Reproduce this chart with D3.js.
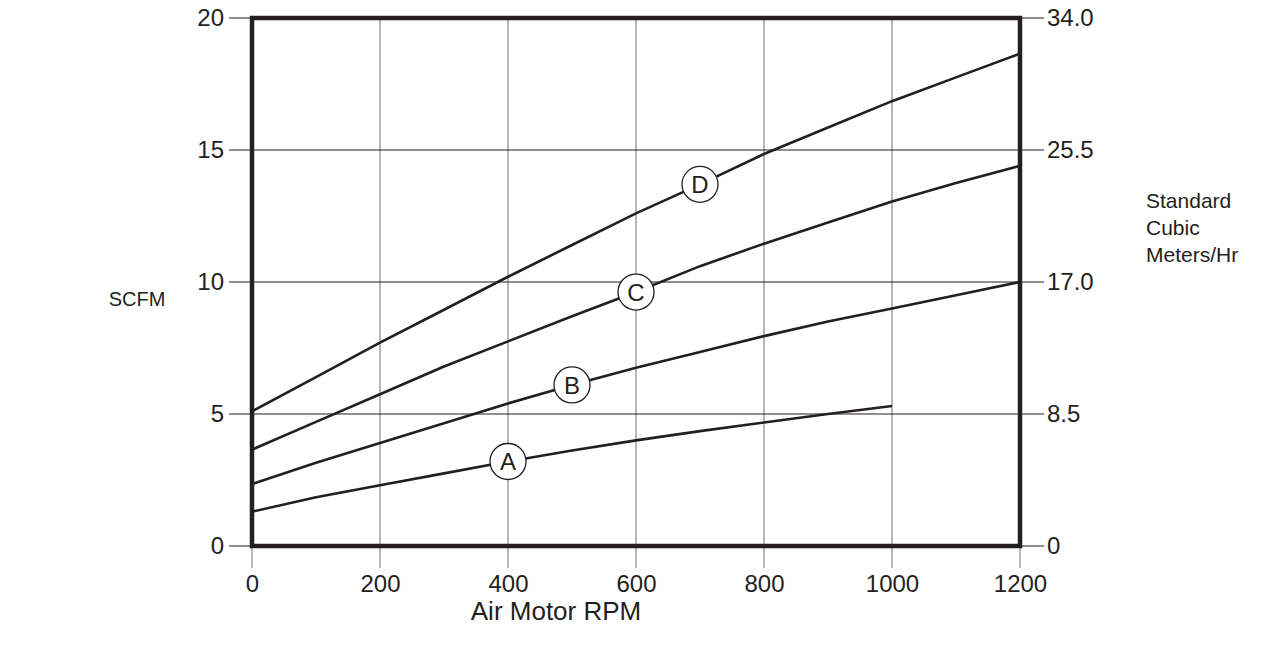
<!DOCTYPE html>
<html>
<head>
<meta charset="utf-8">
<script src="https://cdn.jsdelivr.net/npm/d3@7"></script>
<style>
  body { margin: 0; background: #fff; }
  svg text { font-family: "Liberation Sans", Arial, sans-serif; fill: #231f20; }
</style>
</head>
<body>
<svg id="chart" width="1270" height="646"></svg>
<script>
	'use strict';

	// RPM steps for curves
	var rpm = [0, 100, 200, 300, 400, 500, 600, 700, 800, 900, 1000, 1100, 1200];
	var curveA = [1.3, 1.85, 2.3, 2.75, 3.2, 3.62, 4.0, 4.35, 4.68, 5.0, 5.3];
	var curveB = [2.35, 3.15, 3.9, 4.65, 5.4, 6.1, 6.75, 7.35, 7.95, 8.5, 9.0, 9.5, 10.0];
	var curveC = [3.65, 4.7, 5.75, 6.8, 7.75, 8.7, 9.62, 10.6, 11.45, 12.25, 13.05, 13.75, 14.4];
	var curveD = [5.1, 6.4, 7.7, 8.95, 10.2, 11.4, 12.6, 13.7, 14.85, 15.85, 16.85, 17.75, 18.65];
	var curveNames = ['A', 'B', 'C', 'D'];
	var labelRpm = [400, 500, 600, 700];
	var xTicks = [0, 200, 400, 600, 800, 1000, 1200];
	var yTicks = [0, 5, 10, 15, 20];
	var yRightTicks = ['0', '8.5', '17.0', '25.5', '34.0'];

(function() {
	var svg = d3.select('#chart');
	var pLeft = 252, pRight = 1020, pTop = 18, pBottom = 546;
	var fontSize = '24px';

	var x = d3.scaleLinear().domain([0, 1200]).range([pLeft, pRight]);
	var y = d3.scaleLinear().domain([0, 20]).range([pBottom, pTop]);
	var y2 = d3.scaleLinear().domain([0, 34]).range([pBottom, pTop]);

	// vertical grid
	svg.append('g').selectAll('line').data(xTicks).enter().append('line')
		.attr('x1', x).attr('x2', x)
		.attr('y1', pTop).attr('y2', pBottom + 22)
		.attr('stroke', '#6d6e71').attr('stroke-width', 1);

	// horizontal grid + outside ticks
	svg.append('g').selectAll('line').data(yTicks).enter().append('line')
		.attr('x1', pLeft - 23).attr('x2', pRight + 24)
		.attr('y1', y).attr('y2', y)
		.attr('stroke', '#231f20').attr('stroke-width', 1);

	// axes (labels only)
	var axisBottom = svg.append('g')
		.attr('transform', 'translate(0,' + (pBottom + 26) + ')')
		.call(d3.axisBottom(x).tickValues(xTicks).tickFormat(d3.format('d'))
			.tickSize(0).tickPadding(3));
	var axisLeft = svg.append('g')
		.attr('transform', 'translate(' + (pLeft - 26) + ',0)')
		.call(d3.axisLeft(y).tickValues(yTicks).tickSize(0).tickPadding(2));
	var axisRight = svg.append('g')
		.attr('transform', 'translate(' + (pRight + 25) + ',0)')
		.call(d3.axisRight(y2).tickValues([0, 8.5, 17, 25.5, 34])
			.tickFormat(function(d, i) { return yRightTicks[i]; })
			.tickSize(0).tickPadding(2));
	[axisBottom, axisLeft, axisRight].forEach(function(a) {
		a.select('.domain').remove();
		a.selectAll('text').style('font-size', fontSize).attr('fill', '#231f20');
	});

	// curves
	var line = d3.line()
		.x(function(d) { return x(d[0]); })
		.y(function(d) { return y(d[1]); });
	var curves = [curveA, curveB, curveC, curveD];
	curves.forEach(function(vals) {
		var pts = vals.map(function(v, i) { return [rpm[i], v]; });
		svg.append('path').datum(pts)
			.attr('d', line)
			.attr('fill', 'none')
			.attr('stroke', '#231f20')
			.attr('stroke-width', 2.6);
	});

	// frame
	svg.append('rect')
		.attr('x', pLeft).attr('y', pTop)
		.attr('width', pRight - pLeft).attr('height', pBottom - pTop)
		.attr('fill', 'none').attr('stroke', '#231f20').attr('stroke-width', 4.5);

	// curve labels
	curveNames.forEach(function(name, i) {
		var r = labelRpm[i];
		var idx = rpm.indexOf(r);
		var g = svg.append('g')
			.attr('transform', 'translate(' + x(r) + ',' + y(curves[i][idx]) + ')');
		g.append('circle').attr('r', 18)
			.attr('fill', '#fff').attr('stroke', '#231f20').attr('stroke-width', 1.3);
		g.append('text').attr('text-anchor', 'middle').attr('dy', '0.36em')
			.style('font-size', fontSize).text(name);
	});

	// axis titles
	svg.append('text').attr('x', 137).attr('y', 306)
		.attr('text-anchor', 'middle').style('font-size', '20px').text('SCFM');
	svg.append('text').attr('x', 556).attr('y', 620)
		.attr('text-anchor', 'middle').style('font-size', '26px').text('Air Motor RPM');
	var rt = svg.append('text').attr('x', 1146).attr('y', 208).style('font-size', '21px');
	['Standard', 'Cubic', 'Meters/Hr'].forEach(function(s, i) {
		rt.append('tspan').attr('x', 1146).attr('dy', i ? 27 : 0).text(s);
	});
})();
</script>
</body>
</html>
